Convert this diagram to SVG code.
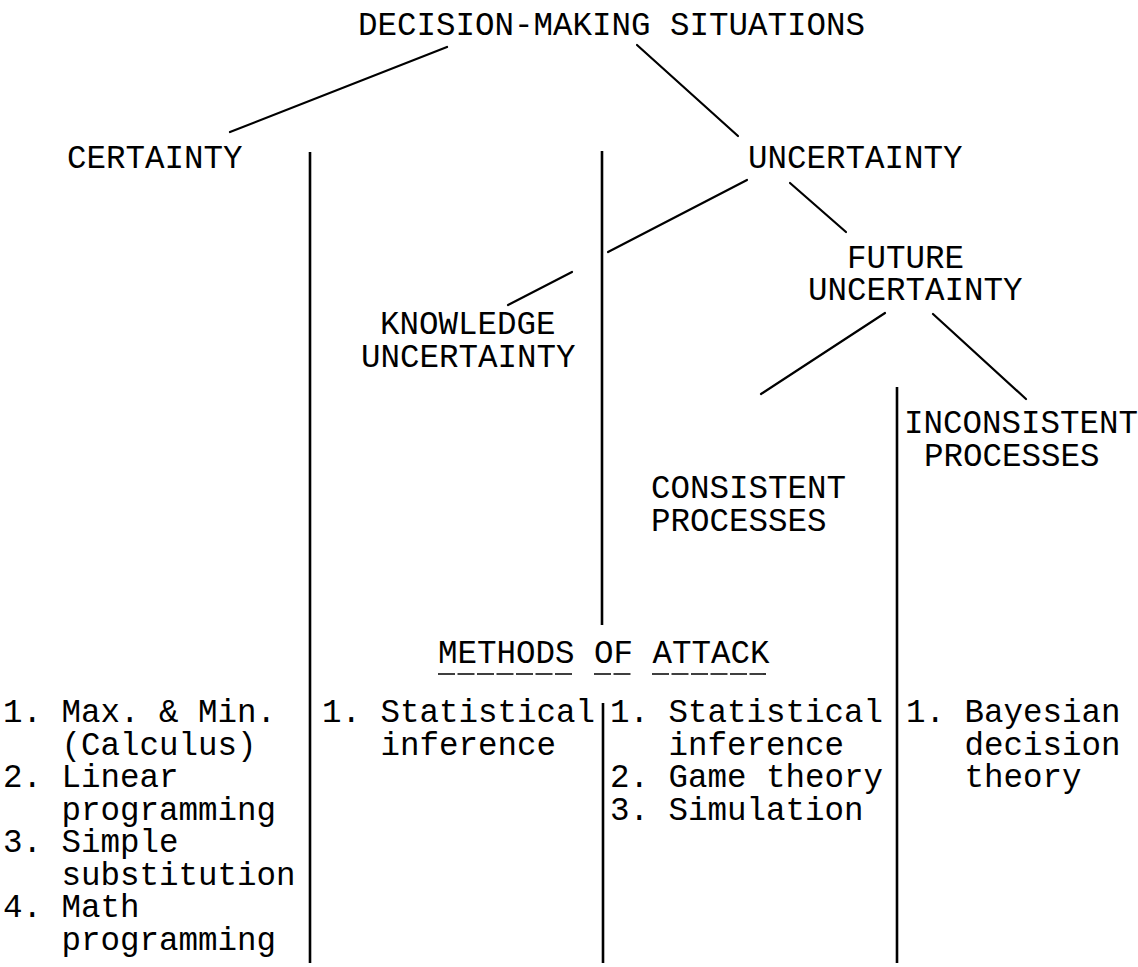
<svg xmlns="http://www.w3.org/2000/svg" width="1138" height="967" viewBox="0 0 1138 967">
<style>
  text { font-family: "Liberation Mono", "Courier New", monospace; font-size: 32.5px; fill: #000; white-space: pre; }
  .ln { stroke: #000; stroke-width: 2.2; fill: none; stroke-linecap: round; }
  .vl { stroke: #000; stroke-width: 2.6; fill: none; }
  .ul { stroke: #000; stroke-width: 1.6; fill: none; stroke-dasharray: 17 2.5; }
</style>
<rect width="1138" height="967" fill="#ffffff"/>
<g id="connectors">
  <line class="ln" x1="447" y1="47" x2="230" y2="132"/>
  <line class="ln" x1="637" y1="45" x2="738" y2="136"/>
  <line class="ln" x1="747" y1="180" x2="608" y2="252"/>
  <line class="ln" x1="572" y1="272" x2="508" y2="305"/>
  <line class="ln" x1="790" y1="183" x2="846" y2="232"/>
  <line class="ln" x1="885" y1="313" x2="761" y2="394"/>
  <line class="ln" x1="933" y1="314" x2="1026" y2="399"/>
</g>
<g id="dividers">
  <line class="vl" x1="310" y1="152" x2="310" y2="963"/>
  <line class="vl" x1="602" y1="151" x2="602" y2="625"/>
  <line class="vl" x1="603" y1="703" x2="603" y2="963"/>
  <line class="vl" x1="897" y1="387" x2="897" y2="963"/>
</g>
<g id="node-root"><text x="358" y="35">DECISION-MAKING SITUATIONS</text></g>
<g id="node-certainty"><text x="67" y="168">CERTAINTY</text></g>
<g id="node-uncertainty"><text x="748" y="168">UNCERTAINTY</text></g>
<g id="node-knowledge"><text x="380" y="334">KNOWLEDGE</text><text x="361" y="367">UNCERTAINTY</text></g>
<g id="node-future"><text x="847" y="268">FUTURE</text><text x="808" y="300">UNCERTAINTY</text></g>
<g id="node-inconsistent"><text x="904" y="433">INCONSISTENT</text><text x="924" y="466">PROCESSES</text></g>
<g id="node-consistent"><text x="651" y="498">CONSISTENT</text><text x="651" y="531">PROCESSES</text></g>
<g id="heading-methods">
  <text x="438" y="663">METHODS OF ATTACK</text>
  <line class="ul" x1="438" y1="674" x2="574" y2="674"/>
  <line class="ul" x1="594" y1="674" x2="632" y2="674"/>
  <line class="ul" x1="652" y1="674" x2="766" y2="674"/>
</g>
<g id="methods-certainty">
  <text x="3" y="722">1. Max. &amp; Min.</text>
  <text x="3" y="754.5">   (Calculus)</text>
  <text x="3" y="787">2. Linear</text>
  <text x="3" y="819.5">   programming</text>
  <text x="3" y="852">3. Simple</text>
  <text x="3" y="884.5">   substitution</text>
  <text x="3" y="917">4. Math</text>
  <text x="3" y="949.5">   programming</text>
</g>
<g id="methods-knowledge">
  <text x="322" y="722">1. Statistical</text>
  <text x="322" y="754.5">   inference</text>
</g>
<g id="methods-consistent">
  <text x="610" y="722">1. Statistical</text>
  <text x="610" y="754.5">   inference</text>
  <text x="610" y="787">2. Game theory</text>
  <text x="610" y="819.5">3. Simulation</text>
</g>
<g id="methods-inconsistent">
  <text x="906" y="722">1. Bayesian</text>
  <text x="906" y="754.5">   decision</text>
  <text x="906" y="787">   theory</text>
</g>
</svg>
